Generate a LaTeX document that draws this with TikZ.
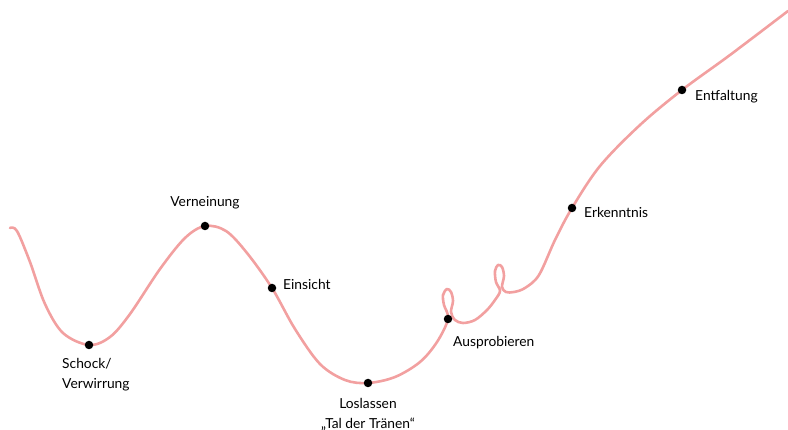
\documentclass[tikz,border=0pt]{standalone}
\usepackage{fontspec}
\setmainfont{Lato}
\usepackage{xcolor}
\usetikzlibrary{positioning}
\definecolor{curvepink}{HTML}{F2A0A0}

\begin{document}
\begin{tikzpicture}[x=1pt, y=-1pt,
  dot/.style={circle, fill=black, inner sep=0pt, minimum size=8.5pt},
  lbl/.style={font=\fontsize{13.8}{20}\selectfont, inner sep=0pt, align=left},
  curve/.style={draw=curvepink, line width=2.6pt, line cap=round, line join=round}
]
\useasboundingbox (0,0) rectangle (788,430);
% stations on the curve
\coordinate (schock) at (89,345);
\coordinate (vern)   at (205,226);
\coordinate (einsi)  at (272,288);
\coordinate (losl)   at (368,383);
\coordinate (ausp)   at (448,319);
\coordinate (erk)    at (572,208);
\coordinate (entf)   at (682,90);
% the curve, with its two little loops
\draw[curve] plot[smooth, tension=0.55] coordinates {
  (10,228) (17,231) (30,262) (45,304) (63,333) (schock) (110,337) (130,314)
  (160,269) (185,238) (vern) (226,231) (247,253) (einsi) (295,329) (320,364)
  (345,380) (losl) (395,377) (420,362) (437,342) (ausp) (444,305) (443,295)
  (447,289) (451,292) (453,301) (451,312) (455,320) (463,323) (475,320)
  (487,310) (495,300) (500,291) (496,282) (495,271) (498,265) (502,267)
  (504,276) (502,287) (506,292) (514,292) (525,288) (539,275) (555,240)
  (erk) (600,166) (640,125) (entf) (730,55) (788,11)};
% dots
\node[dot] (d1) at (schock) {};
\node[dot] (d2) at (vern) {};
\node[dot] (d3) at (einsi) {};
\node[dot] (d4) at (losl) {};
\node[dot] (d5) at (ausp) {};
\node[dot] (d6) at (erk) {};
\node[dot] (d7) at (entf) {};
% labels
\node[lbl, anchor=north west] (l1) at (62,358) {Schock/\\Verwirrung};
\node[lbl, above=12pt of d2] (l2) {Verneinung};
\node[lbl, anchor=west] (l3) at (283,284) {Einsicht};
\node[lbl, anchor=north, align=center] (l4) at (368,398) {Loslassen\\„Tal der Tränen“};
\node[lbl, anchor=west] (l5) at (453,343) {Ausprobieren};
\node[lbl, anchor=west] (l6) at (584,212) {Erkenntnis};
\node[lbl, anchor=west] (l7) at (695,97) {Entfaltung};
\end{tikzpicture}
\end{document}
